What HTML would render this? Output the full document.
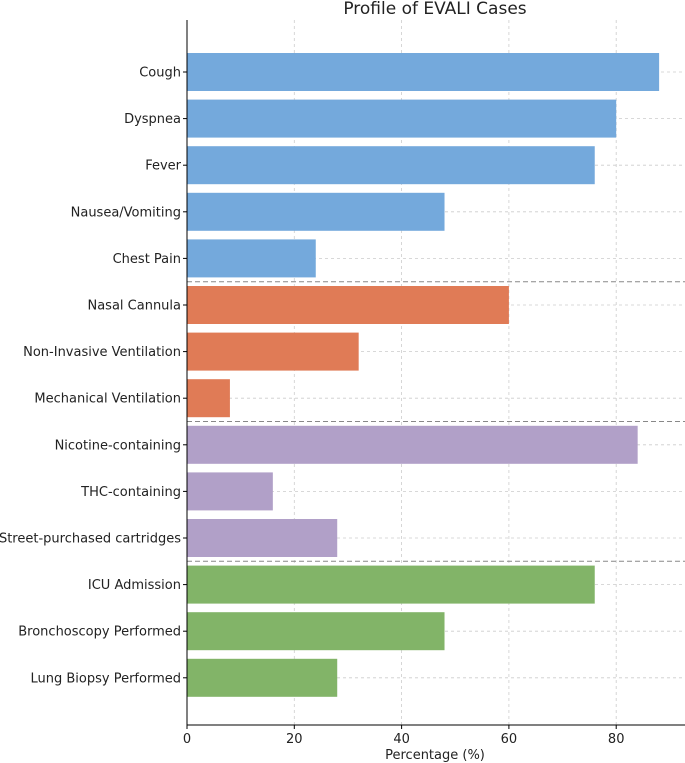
<!DOCTYPE html>
<html><head><meta charset="utf-8"><style>
body{margin:0;background:#fff;}
svg{display:block;font-family:"DejaVu Sans","Liberation Sans",sans-serif;}
</style></head><body>
<svg id="chart" width="685" height="763">
<text x="435" y="14" font-size="17" text-anchor="middle" fill="#222">Profile of EVALI Cases</text>
<g id="grid"></g><g id="bars"></g><g id="labels"></g>
<line x1="187" y1="20" x2="187" y2="725" stroke="#000" stroke-width="1"/>
<line x1="187" y1="725" x2="685" y2="725" stroke="#000" stroke-width="1"/>
<text x="435" y="759" font-size="13" text-anchor="middle" fill="#222">Percentage (%)</text>
</svg>
<script>
const categories=["Cough","Dyspnea","Fever","Nausea/Vomiting","Chest Pain","Nasal Cannula","Non-Invasive Ventilation","Mechanical Ventilation","Nicotine-containing","THC-containing","Street-purchased cartridges","ICU Admission","Bronchoscopy Performed","Lung Biopsy Performed"];
const values=[88,80,76,48,24,60,32,8,84,16,28,76,48,28];
const groups=[0,0,0,0,0,1,1,1,2,2,2,3,3,3];
const groupColors=["#74a9dc","#e07b56","#b1a0c8","#82b468"];
const xTicks=[0,20,40,60,80];
const NS="http://www.w3.org/2000/svg";
const x=v=>187+v*5.365;
const y=i=>72+i*46.6;
const bh=38;
function mk(t,a,p){const e=document.createElementNS(NS,t);for(const k in a)e.setAttribute(k,a[k]);p.appendChild(e);return e;}
const grid=document.getElementById('grid'),bars=document.getElementById('bars'),labels=document.getElementById('labels');
xTicks.forEach(t=>{
 const l=mk('line',{x1:x(t),x2:x(t),y1:20,y2:725,stroke:'#ccc','stroke-dasharray':'3,3','stroke-width':0.8},grid);
 
 
 const tk=mk('line',{x1:x(t),x2:x(t),y1:725,y2:729,stroke:'#000'},labels);
 
 
 const tx=mk('text',{x:x(t),y:743,'font-size':13,'text-anchor':'middle',fill:'#222'},labels);
 tx.textContent=t;
 
 
});
categories.forEach((c,i)=>{
 const gl=mk('line',{x1:187,x2:685,y1:y(i),y2:y(i),stroke:'#ccc','stroke-dasharray':'3,3','stroke-width':0.8},grid);
 
 
 const r=mk('rect',{x:x(0),y:y(i)-bh/2,width:x(values[i])-x(0),height:bh,fill:groupColors[groups[i]]},bars);
 
 
 const tk=mk('line',{x1:183,x2:187,y1:y(i),y2:y(i),stroke:'#000'},labels);
 
 
 const t=mk('text',{x:181,y:y(i)+4.5,'font-size':13,'text-anchor':'end',fill:'#222'},labels);
 t.textContent=c;
 
 
 if(i>0&&groups[i]!==groups[i-1]){
  const s=mk('line',{x1:187,x2:685,y1:(y(i)+y(i-1))/2,y2:(y(i)+y(i-1))/2,stroke:'#888','stroke-dasharray':'5,3','stroke-width':1},labels);
  
  
 }
});
</script>
</body></html>
